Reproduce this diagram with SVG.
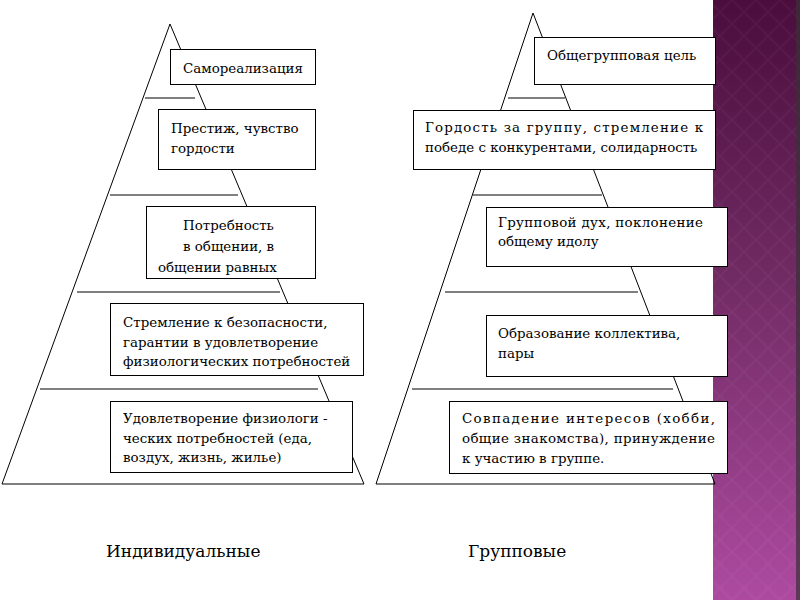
<svg xmlns="http://www.w3.org/2000/svg" width="800" height="600" viewBox="0 0 800 600">
<defs>
<style>
.ln{stroke:#000;stroke-width:1;fill:none}
.bx{fill:#fff;stroke:#000;stroke-width:1}
.bo{fill:none;stroke:#000;stroke-width:1}
text{fill:#000;font-family:"DejaVu Serif","Liberation Serif",serif}
.t{font-size:13.4px}
.cap{font-size:17px}
</style>
<linearGradient id="band" x1="0" y1="0" x2="0" y2="1">
<stop offset="0" stop-color="#4a0d3c"/>
<stop offset="0.45" stop-color="#6f2a62"/>
<stop offset="1" stop-color="#ad4aa0"/>
</linearGradient>
<pattern id="dia" width="24" height="24" patternUnits="userSpaceOnUse">
<path d="M12 0 L24 12 L12 24 L0 12 Z" fill="none" stroke="#fff" stroke-opacity="0.03" stroke-width="2"/>
</pattern>
<clipPath id="c3"><rect x="146" y="206" width="169" height="72"/></clipPath>
</defs>
<rect width="800" height="600" fill="#fff"/>
<g id="band-bg">
<rect x="713" y="0" width="87" height="600" fill="url(#band)"/>
<rect x="713" y="0" width="87" height="600" fill="url(#dia)"/>
<rect x="796" y="0" width="4" height="600" fill="#3a3038" opacity="0.7"/>
</g>
<g id="connectors">
<path class="ln" d="M2 484 L170 24 L364 484 Z"/>
<line class="ln" x1="145" y1="98" x2="195" y2="98"/>
<line class="ln" x1="110" y1="195" x2="238" y2="195"/>
<line class="ln" x1="77" y1="292" x2="280" y2="292"/>
<line class="ln" x1="40" y1="389" x2="318" y2="389"/>
<path class="ln" d="M376 484 L533 13 L715 484 Z"/>
<line class="ln" x1="508" y1="98" x2="565" y2="98"/>
<line class="ln" x1="473" y1="195" x2="602" y2="195"/>
<line class="ln" x1="445" y1="292" x2="638" y2="292"/>
<line class="ln" x1="412" y1="389" x2="673" y2="389"/>
</g>
<g id="l1"><rect class="bx" x="170.5" y="49.5" width="145" height="35"/><text class="t" x="183" y="73">Самореализация</text></g>
<g id="l2"><rect class="bx" x="158.5" y="109.5" width="157" height="60"/><text class="t" x="171" y="133">Престиж, чувство</text><text class="t" x="171" y="153">гордости</text></g>
<g id="l3"><rect class="bx" x="146.5" y="206.5" width="169" height="72"/><g clip-path="url(#c3)"><text class="t" x="183" y="230">Потребность</text><text class="t" x="183" y="251">в общении, в</text><text class="t" x="158" y="272">общении равных</text></g><rect class="bo" x="146.5" y="206.5" width="169" height="72"/></g>
<g id="l4"><rect class="bx" x="110.5" y="303.5" width="253" height="72"/><text class="t" x="123" y="327">Стремление к безопасности,</text><text class="t" x="123" y="347">гарантии в удовлетворение</text><text class="t" x="123" y="366">физиологических потребностей</text></g>
<g id="l5"><rect class="bx" x="110.5" y="401.5" width="242" height="71"/><text class="t" x="123" y="423">Удовлетворение физиологи -</text><text class="t" x="123" y="443">ческих потребностей (еда,</text><text class="t" x="123" y="462">воздух, жизнь, жилье)</text></g>
<g id="r1"><rect class="bx" x="534.5" y="37.5" width="181" height="47"/><text class="t" x="547" y="60">Общегрупповая цель</text></g>
<g id="r2"><rect class="bx" x="413.5" y="110.5" width="302" height="59"/><text class="t" x="425" y="132" textLength="278" lengthAdjust="spacing">Гордость за группу, стремление к</text><text class="t" x="425" y="152">победе с конкурентами, солидарность</text></g>
<g id="r3"><rect class="bx" x="486.5" y="207.5" width="241" height="59"/><text class="t" x="498" y="227" textLength="205" lengthAdjust="spacing">Групповой дух,  поклонение</text><text class="t" x="498" y="246">общему идолу</text></g>
<g id="r4"><rect class="bx" x="486.5" y="315.5" width="241" height="61"/><text class="t" x="498" y="338">Образование коллектива,</text><text class="t" x="498" y="358">пары</text></g>
<g id="r5"><rect class="bx" x="449.5" y="401.5" width="278" height="72"/><text class="t" x="462" y="423" textLength="253" lengthAdjust="spacing">Совпадение интересов (хобби,</text><text class="t" x="462" y="443" textLength="253" lengthAdjust="spacing">общие знакомства), принуждение</text><text class="t" x="462" y="463">к участию в группе.</text></g>
<g id="captions"><text class="cap" x="106" y="557">Индивидуальные</text><text class="cap" x="468" y="557">Групповые</text></g>
</svg>
